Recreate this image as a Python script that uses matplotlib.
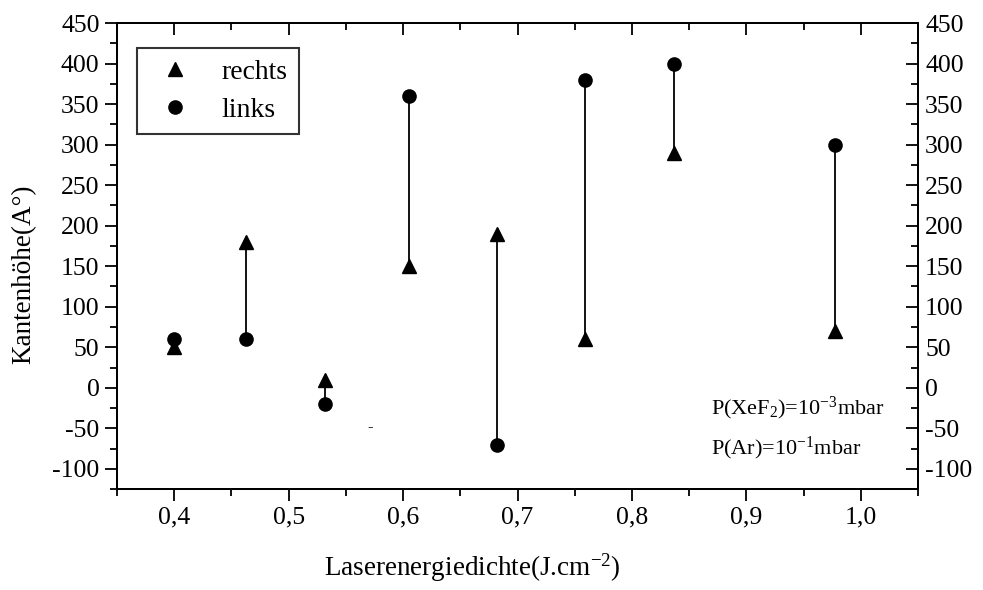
import numpy as np
import matplotlib
matplotlib.use("Agg")
import matplotlib.pyplot as plt
from matplotlib.ticker import MultipleLocator, FuncFormatter

plt.rcParams['font.family'] = ['Liberation Serif', 'DejaVu Serif']
plt.rcParams['mathtext.fontset'] = 'custom'
plt.rcParams['mathtext.rm'] = 'Liberation Serif'
plt.rcParams['mathtext.it'] = 'Liberation Serif:italic'
plt.rcParams['axes.unicode_minus'] = False

# energy density (J/cm^2) and edge heights (A)
energie = [0.40, 0.463, 0.532, 0.605, 0.682, 0.759, 0.837, 0.977]
rechts = [50, 180, 10, 150, 190, 60, 290, 70]
links = [60, 60, -20, 360, -70, 380, 400, 300]

fig = plt.figure(figsize=(9.83, 5.9), dpi=100)
ax = fig.add_axes([0.119, 0.171, 0.815, 0.790])

ax.vlines(energie, rechts, links, colors='black', lw=1.3, zorder=1)
ax.plot(energie, rechts, '^', color='black', ms=10.5, ls='none', label='rechts', zorder=2)
ax.plot(energie, links, 'o', color='black', ms=9.5, ls='none', label='links', zorder=2)

ax.set_xlim(0.35, 1.05)
ax.set_ylim(-125, 450)

tick_fs = 18.5
ax.xaxis.set_major_locator(MultipleLocator(0.1))
ax.xaxis.set_minor_locator(MultipleLocator(0.05))
ax.yaxis.set_major_locator(MultipleLocator(50))
ax.yaxis.set_minor_locator(MultipleLocator(25))
ax.xaxis.set_major_formatter(FuncFormatter(lambda v, p: ('%.1f' % v).replace('.', ',')))
ax.yaxis.set_major_formatter(FuncFormatter(lambda v, p: '%d' % v))
ax.tick_params(which='both', direction='out', width=1.3, labelsize=tick_fs, top=False, right=False)
ax.tick_params(which='major', length=8.5, pad=4)
ax.tick_params(which='minor', length=5)

# right and top axes with inward ticks
axr = ax.twinx()
axr.set_ylim(ax.get_ylim())
axr.yaxis.set_major_locator(MultipleLocator(50))
axr.yaxis.set_minor_locator(MultipleLocator(25))
axr.yaxis.set_major_formatter(FuncFormatter(lambda v, p: '%d' % v))
axr.tick_params(which='both', direction='in', width=1.3, labelsize=tick_fs, pad=5)
axr.tick_params(which='major', length=8.5)
axr.tick_params(which='minor', length=5)

axt = ax.twiny()
axt.set_xlim(ax.get_xlim())
axt.xaxis.set_major_locator(MultipleLocator(0.1))
axt.xaxis.set_minor_locator(MultipleLocator(0.05))
axt.tick_params(which='both', direction='in', width=1.3, labeltop=False)
axt.tick_params(which='major', length=8.5)
axt.tick_params(which='minor', length=5)

for a in (ax, axr, axt):
    for s in a.spines.values():
        s.set_linewidth(1.3)

ax.set_xlabel('Laserenergiedichte(J.cm$^{-2}$)', fontsize=19.5)
ax.xaxis.set_label_coords(0.443, -0.133)
ax.set_ylabel('Kantenhöhe(A°)', fontsize=19.5)
ax.yaxis.set_label_coords(-0.1, 0.461)

leg = ax.legend(loc='upper left', bbox_to_anchor=(0.025, 0.946), fontsize=20,
                frameon=True, fancybox=False, edgecolor='black', handletextpad=0.75,
                borderpad=0.4, labelspacing=0.45, handlelength=1.9, borderaxespad=0)
leg.get_frame().set_linewidth(1.5)

ax.text(0.741, 0.16, 'P(XeF$_2$)=10$^{-3}$mbar', transform=ax.transAxes, fontsize=16)
ax.text(0.741, 0.075, 'P(Ar)=10$^{-1}$mbar', transform=ax.transAxes, fontsize=16)
ax.text(0.569, -54, '-', fontsize=12)

fig.savefig('out.png', dpi=100)
